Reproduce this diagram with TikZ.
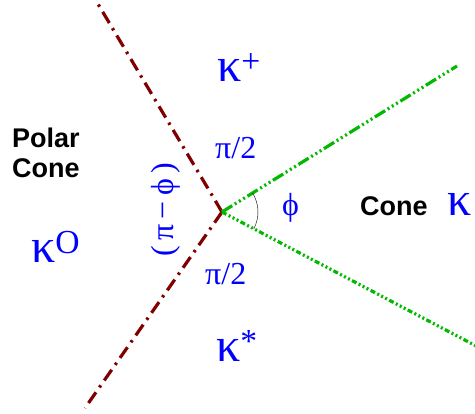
\documentclass[tikz,border=0pt]{standalone}
\usepackage{fontspec}
\setmainfont{Liberation Serif}
\setsansfont{Liberation Sans}
\usepackage{xcolor}
\usetikzlibrary{positioning,calc}

\definecolor{conegreen}{RGB}{0,185,0}
\definecolor{polarred}{RGB}{128,0,0}

\begin{document}
\begin{tikzpicture}[x=1pt, y=-1pt,
        greek/.style={text=blue, inner sep=0pt, font=\fontsize{32}{32}\selectfont},
        kappa/.style={text=blue, inner sep=0pt, font=\fontsize{48}{48}\selectfont},
        word/.style={inner sep=0pt, align=left, font=\fontsize{27}{30}\sffamily\bfseries},
        polar/.style={polarred, line width=3.2pt,
                      dash pattern=on 13pt off 6pt on 2.5pt off 6pt},
        upper/.style={conegreen, line width=3.2pt,
                      dash pattern=on 12pt off 3pt on 2pt off 3pt on 2pt off 3pt on 2pt off 3pt},
        lower/.style={conegreen, line width=3.2pt,
                      dash pattern=on 5pt off 2.5pt on 2pt off 2.5pt on 2pt off 2.5pt on 2pt off 2.5pt}
    ]
        \useasboundingbox (0,0) rectangle (475,414);

        \coordinate (o) at (222,212);
        \coordinate (redtop) at (98,4);
        \coordinate (redbot) at (85,408);
        \coordinate (greentop) at (457,66);
        \coordinate (greenbot) at (478,347);

        \draw[polar] (o) -- (redtop);
        \draw[polar] (o) -- (redbot);
        \draw[upper] (o) -- (greentop);
        \draw[lower] (o) -- (greenbot);
        \draw[thin] ($(o)!36pt!(greentop)$) arc[start angle=31.8, end angle=-28, radius=36pt];

        \node[kappa, anchor=base west] (kplus) at (217,82) {κ\textsuperscript{+}};
        \node[greek, anchor=base west] (halfup) at (215,159) {π/2};
        \node[greek, anchor=base west] (phi) at (282,216) {ϕ};
        \node[word, anchor=base west] (cone) at (360,216) {Cone};
        \node[kappa, anchor=base west] (kcone) at (447,216) {κ};
        \node[greek, anchor=base west] (halfdown) at (205,285) {π/2};
        \node[kappa, anchor=base west] (kstar) at (216,362) {κ\textsuperscript{*}};
        \node[word, anchor=base west] (polarcone) at (12,178) {Polar\\Cone};
        \node[kappa, anchor=base west] (kzero) at (31,263) {κ\textsuperscript{O}};
        \node[greek, rotate=90] (pimphi) at (166,210) {(\,π\,−\,ϕ\,)};
    \end{tikzpicture}
\end{document}
